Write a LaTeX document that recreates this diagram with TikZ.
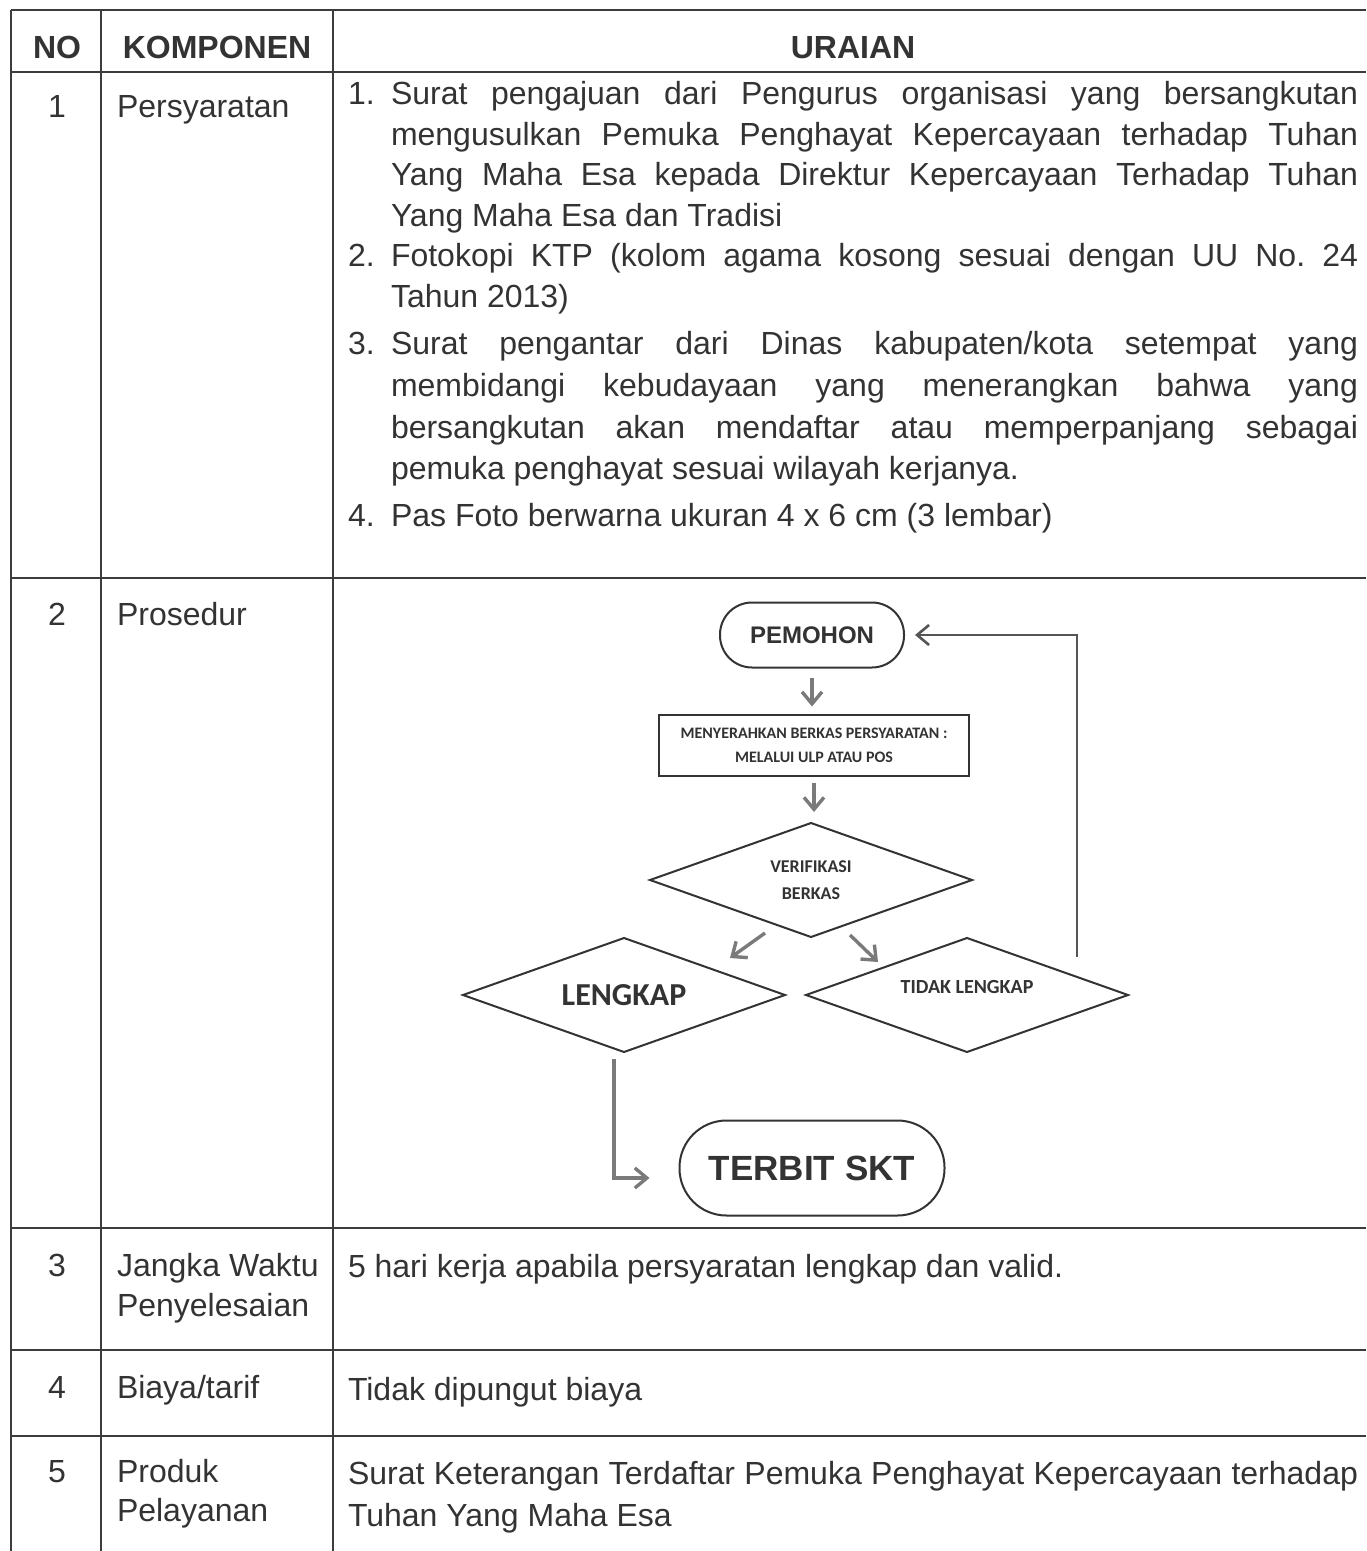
\documentclass[tikz,border=0pt]{standalone}
\usepackage{fontspec}
\setmainfont{Liberation Sans}
\newfontfamily\calib{Carlito}
\usetikzlibrary{shapes.geometric,arrows.meta,calc}
\definecolor{ink}{HTML}{333333}
\definecolor{rule}{HTML}{3C3C3C}
\definecolor{arr}{HTML}{7A7A7A}
\definecolor{fbc}{HTML}{555555}
\newcommand\bodyf{\fontsize{16pt}{20pt}\selectfont}
\begin{document}
\begin{tikzpicture}[x=0.5pt,y=-0.5pt,
  every node/.style={inner sep=0pt,outer sep=0pt,text=ink},
  tline/.style={draw=rule,line width=1.1pt},
  bodytxt/.style={font=\bodyf,anchor=base west},
  numtxt/.style={font=\bodyf,anchor=base},
  hd/.style={font=\bodyf\bfseries,anchor=base},
  termbox/.style={draw=ink,line width=1pt,align=center},
  dia/.style={shape=diamond,aspect=2.8,draw=ink,line width=1pt,minimum width=161pt,minimum height=57pt,align=center},
  flowarr/.style={draw=arr,line width=1.7pt,-{Straight Barb[length=6pt,width=10pt]}},
  fbarr/.style={draw=fbc,line width=1.3pt,-{Straight Barb[length=6pt,width=10pt]}},
]
\path[use as bounding box,fill=white] (0,0) rectangle (1366,1551);

% table rules
\draw[tline] (11,10) -- (1366,10);
\draw[tline] (11,72) -- (1366,72);
\draw[tline] (11,578) -- (1366,578);
\draw[tline] (11,1228) -- (1366,1228);
\draw[tline] (11,1350) -- (1366,1350);
\draw[tline] (11,1436) -- (1366,1436);
\draw[tline] (11,10) -- (11,1551);
\draw[tline] (101,10) -- (101,1551);
\draw[tline] (333,10) -- (333,1551);

% header
\node[hd] (hno) at (57,58.5) {NO};
\node[hd] (hkomp) at (217,58.5) {KOMPONEN};
\node[hd] (hur) at (853,58.5) {URAIAN};

% row 1
\node[numtxt] (n1) at (57,118) {1};
\node[bodytxt] (k1) at (117,118) {Persyaratan};
\node[bodytxt] (i1n) at (348,105) {1.};
\node[bodytxt] (i1a) at (391,105) {\makebox[483.5pt][s]{Surat pengajuan dari Pengurus organisasi yang bersangkutan}};
\node[bodytxt] (i1b) at (391,146) {\makebox[483.5pt][s]{mengusulkan Pemuka Penghayat Kepercayaan terhadap Tuhan}};
\node[bodytxt] (i1c) at (391,186) {\makebox[483.5pt][s]{Yang Maha Esa kepada Direktur Kepercayaan Terhadap Tuhan}};
\node[bodytxt] (i1d) at (391,227) {Yang Maha Esa dan Tradisi};
\node[bodytxt] (i2n) at (348,267) {2.};
\node[bodytxt] (i2a) at (391,267) {\makebox[483.5pt][s]{Fotokopi KTP (kolom agama kosong sesuai dengan UU No.\ 24}};
\node[bodytxt] (i2b) at (391,308) {Tahun 2013)};
\node[bodytxt] (i3n) at (348,355) {3.};
\node[bodytxt] (i3a) at (391,355) {\makebox[483.5pt][s]{Surat pengantar dari Dinas kabupaten/kota setempat yang}};
\node[bodytxt] (i3b) at (391,396) {\makebox[483.5pt][s]{membidangi kebudayaan yang menerangkan bahwa yang}};
\node[bodytxt] (i3c) at (391,438) {\makebox[483.5pt][s]{bersangkutan akan mendaftar atau memperpanjang sebagai}};
\node[bodytxt] (i3d) at (391,479) {pemuka penghayat sesuai wilayah kerjanya.};
\node[bodytxt] (i4n) at (348,526) {4.};
\node[bodytxt] (i4a) at (391,526) {Pas Foto berwarna ukuran 4 x 6 cm (3 lembar)};

% row 2
\node[numtxt] (n2) at (57,625) {2};
\node[bodytxt] (k2) at (117,625) {Prosedur};

% row 3
\node[numtxt] (n3) at (57,1276) {3};
\node[bodytxt] (k3a) at (117,1276) {Jangka Waktu};
\node[bodytxt] (k3b) at (117,1316) {Penyelesaian};
\node[bodytxt] (u3) at (348,1277) {5 hari kerja apabila persyaratan lengkap dan valid.};

% row 4
\node[numtxt] (n4) at (57,1398) {4};
\node[bodytxt] (k4) at (117,1398) {Biaya/tarif};
\node[bodytxt] (u4) at (348,1400) {Tidak dipungut biaya};

% row 5
\node[numtxt] (n5) at (57,1482) {5};
\node[bodytxt] (k5a) at (117,1482) {Produk};
\node[bodytxt] (k5b) at (117,1521) {Pelayanan};
\node[bodytxt] (u5a) at (348,1484) {\makebox[505pt][s]{Surat Keterangan Terdaftar Pemuka Penghayat Kepercayaan terhadap}};
\node[bodytxt] (u5b) at (348,1526) {Tuhan Yang Maha Esa};

% flowchart
\node[termbox,rounded corners=16pt,minimum width=92pt,minimum height=32.5pt,font=\bfseries\fontsize{12pt}{14pt}\selectfont] (pem) at (812,635) {PEMOHON};
\node[draw=ink,line width=1pt,minimum width=155pt,minimum height=30.5pt,align=center,font=\calib\bfseries\fontsize{8pt}{12pt}\selectfont] (berkas) at (814,745) {MENYERAHKAN BERKAS PERSYARATAN :\\MELALUI ULP ATAU POS};
\node[dia,font=\calib\bfseries\fontsize{9pt}{13.5pt}\selectfont] (ver) at (811,880) {VERIFIKASI\\BERKAS};
\node[dia,font=\calib\bfseries\fontsize{16pt}{18pt}\selectfont] (len) at (624,995) {LENGKAP};
\node[dia,font=\calib\bfseries\fontsize{10pt}{12pt}\selectfont] (tdk) at (967,995) {\raisebox{4pt}[\height][\depth]{TIDAK LENGKAP}};
\node[termbox,rounded corners=23.5pt,minimum width=132.5pt,minimum height=47.5pt,font=\bfseries\fontsize{17.5pt}{20pt}\selectfont] (skt) at (812,1168) {TERBIT SKT};

\draw[flowarr,shorten <=5pt,shorten >=4pt] (pem.south) -- (pem.south |- berkas.north);
\draw[flowarr,shorten <=3.5pt,shorten >=5.5pt] (berkas.south) -- (berkas.south |- ver.north);
\coordinate (vl1) at (765,933);
\coordinate (vl2) at (730,958);
\draw[flowarr] (vl1) -- (vl2);
\coordinate (vr1) at (850,935);
\coordinate (vr2) at (878,962);
\draw[flowarr] (vr1) -- (vr2);
\coordinate (fb) at (1077,957);
\draw[fbarr,shorten >=5.5pt] (fb) |- (pem.east);
\draw[flowarr,shorten <=3.5pt,shorten >=15pt] ([xshift=-5pt]len.south) |- ([yshift=-5pt]skt.west);
\end{tikzpicture}
\end{document}
